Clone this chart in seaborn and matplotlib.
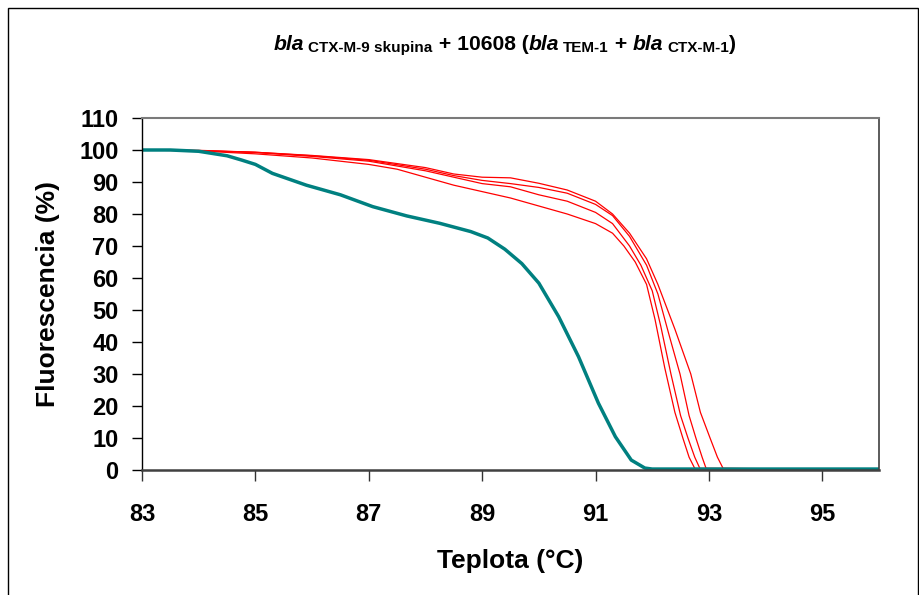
import matplotlib
matplotlib.use("Agg")
import matplotlib.pyplot as plt
import seaborn as sns
import pandas as pd
from matplotlib.patches import Rectangle

# ---- data ----
teal_T = [83.0, 83.5, 84.0, 84.5, 84.75, 85.0, 85.3, 85.9, 86.5, 87.07, 87.67,
          88.25, 88.8, 89.1, 89.4, 89.7, 90.0, 90.35, 90.7, 91.05, 91.35,
          91.63, 91.87, 92.0, 93.0, 94.0, 95.0, 96.0]
teal_F = [100.0, 100.0, 99.6, 98.2, 96.9, 95.5, 92.7, 89.0, 86.0, 82.3, 79.4,
          77.1, 74.5, 72.5, 69.0, 64.5, 58.4, 47.9, 35.4, 20.9, 10.4,
          3.1, 0.6, 0.3, 0.3, 0.3, 0.3, 0.3]

red1_T = [83, 84, 85, 86, 87, 87.5, 88, 88.5, 89, 89.5, 90, 90.5, 91, 91.3,
          91.5, 91.7, 91.9, 92.05, 92.22, 92.4, 92.54, 92.65, 92.75, 93, 96]
red1_F = [100, 99.7, 98.8, 97.5, 95.5, 94, 91.5, 89, 87, 85, 82.5, 80, 77, 74,
          70, 65, 58, 47, 32, 18, 10, 4, 0.5, 0.2, 0.2]

red2_T = [83, 84, 85, 86, 87, 88, 88.5, 89, 89.5, 90, 90.5, 91, 91.3, 91.6,
          91.8, 92.0, 92.15, 92.33, 92.5, 92.63, 92.75, 92.84, 96]
red2_F = [100, 99.8, 99.2, 98, 96.5, 93.5, 91.5, 89.5, 88.5, 86, 84, 80.5, 77,
          70, 64, 56, 45, 30, 17, 10, 4, 0.5, 0.2]

red3_T = [83, 84, 85, 86, 87, 88, 88.5, 89, 89.5, 90, 90.5, 91, 91.3, 91.6,
          91.9, 92.1, 92.3, 92.49, 92.65, 92.77, 92.88, 92.95, 96]
red3_F = [100, 99.8, 99.3, 98.2, 96.8, 94, 92, 90.5, 89.5, 88.3, 86.5, 83,
          79.5, 73, 64, 55, 42, 30, 17, 10, 4, 0.5, 0.2]

red4_T = [83, 84, 85, 86, 87, 88, 88.5, 89, 89.5, 90, 90.5, 91, 91.3, 91.6,
          91.9, 92.1, 92.4, 92.68, 92.85, 93.02, 93.15, 93.25, 96]
red4_F = [100, 99.9, 99.3, 98.3, 97, 94.5, 92.5, 91.5, 91.3, 89.6, 87.5, 84,
          80, 74, 66, 58, 44, 30, 18, 10, 4, 0.5, 0.2]

x_ticks = [83, 85, 87, 89, 91, 93, 95]
y_ticks = list(range(0, 111, 10))

# ---- build long table ----
frames = []
for name, T, F in [("r1", red1_T, red1_F), ("r2", red2_T, red2_F),
                   ("r3", red3_T, red3_F), ("r4", red4_T, red4_F)]:
    frames.append(pd.DataFrame({"T": T, "F": F, "curve": name}))
reds = pd.concat(frames, ignore_index=True)
teal = pd.DataFrame({"T": teal_T, "F": teal_F, "curve": "teal"})

sns.set_theme(style="white")
plt.rcParams["font.family"] = ["Liberation Sans", "DejaVu Sans"]

fig = plt.figure(figsize=(9.19, 5.95), dpi=100)
W, H = 919, 595
ax = fig.add_axes([142 / W, (H - 470) / H, (879 - 142) / W, (470 - 118) / H])

sns.lineplot(data=reds, x="T", y="F", hue="curve", units="curve",
             estimator=None, sort=False, palette=["#ff0000"] * 4,
             linewidth=0.9, legend=False, ax=ax)
sns.lineplot(data=teal, x="T", y="F", color="#008080", estimator=None,
             sort=False, linewidth=2.5, legend=False, ax=ax)

ax.set_xlim(83, 96)
ax.set_ylim(0, 110)
ax.set_xticks(x_ticks)
ax.set_yticks(y_ticks)
ax.tick_params(axis="x", direction="out", length=8, width=1, color="#333333",
               labelsize=17, pad=16, bottom=True)
ax.tick_params(axis="y", direction="out", length=7, width=1, color="#000000",
               labelsize=17, pad=10, left=True)
for lab in ax.get_xticklabels() + ax.get_yticklabels():
    lab.set_fontweight("bold")
    lab.set_color("black")

ax.set_xlabel("Teplota (°C)", fontsize=19, fontweight="bold", color="black",
              labelpad=16)
ax.set_ylabel("Fluorescencia (%)", fontsize=19, fontweight="bold",
              color="black", labelpad=14)

ax.spines["left"].set_color("#000000")
ax.spines["left"].set_linewidth(1.0)
ax.spines["bottom"].set_color("#404040")
ax.spines["bottom"].set_linewidth(1.8)
ax.spines["top"].set_color("#7a7a7a")
ax.spines["top"].set_linewidth(1.5)
ax.spines["right"].set_color("#404040")
ax.spines["right"].set_linewidth(1.2)
for s in ax.spines.values():
    s.set_visible(True)
ax.grid(False)

# ---- figure border ----
fig.patches.append(Rectangle((8 / W, -0.05), (917.5 - 8) / W, 1.05 - 8 / H,
                             transform=fig.transFigure, fill=False,
                             edgecolor="black", linewidth=1.0))

# ---- title built from pieces ----
S, s = 15.2, 11.0
GAP = 4  # px gap between "bla" and its subscript
pieces = [("bla", S, "italic", 0, GAP), ("CTX-M-9 skupina", s, "normal", -2, 0),
          (" + 10608 (", S, "normal", 0, 0), ("bla", S, "italic", 0, GAP),
          ("TEM-1", s, "normal", -2, 0), (" + ", S, "normal", 0, 0),
          ("bla", S, "italic", 0, GAP), ("CTX-M-1", s, "normal", -2, 0),
          (")", S, "normal", 0, 0)]
renderer = fig.canvas.get_renderer()
texts = []
total = 0.0
for txt, size, style, dy, gap in pieces:
    t = fig.text(0, 0, txt.replace(" ", "\u00a0"), fontsize=size,
                 fontstyle=style, fontweight="bold", color="black",
                 ha="left", va="baseline")
    w = t.get_window_extent(renderer=renderer).width + gap
    texts.append((t, w, dy))
    total += w
x0 = 505 - total / 2
base_y = 50
for t, w, dy in texts:
    t.set_position((x0 / W, (H - base_y + dy) / H))
    x0 += w

fig.savefig("out.png", dpi=100, facecolor="white")
